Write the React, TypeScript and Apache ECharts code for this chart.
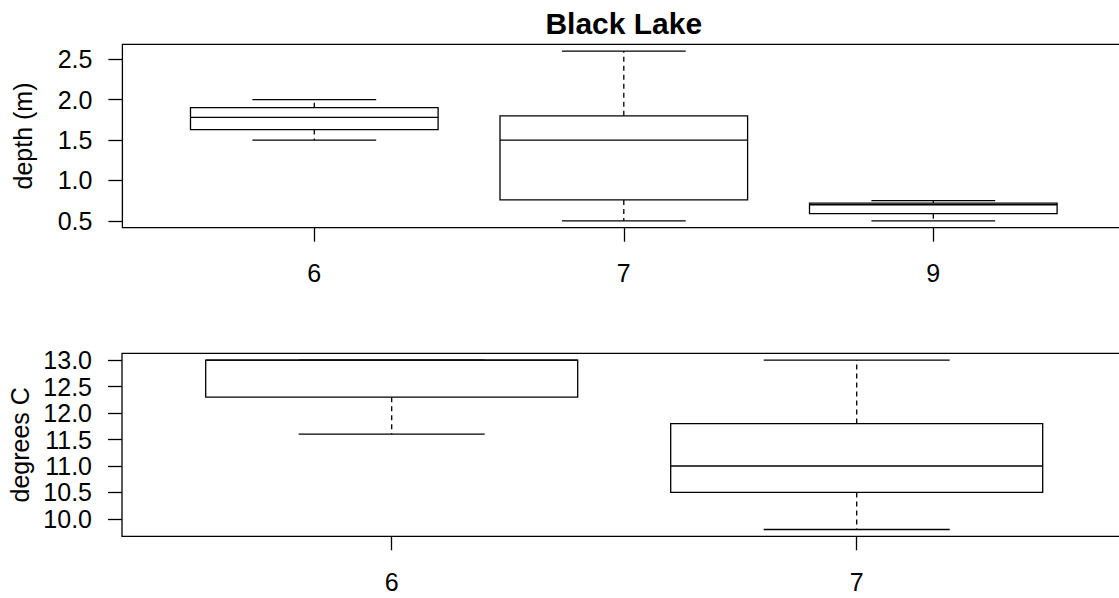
import React, { useEffect, useRef } from "react";
import * as echarts from "echarts";

// Depth of Black Lake by month (five-number summaries, metres)
const depthMonths = ["6", "7", "9"];
const depthLow = [1.5, 0.5, 0.5];
const depthQ1 = [1.63, 0.76, 0.59];
const depthMedian = [1.78, 1.5, 0.7];
const depthQ3 = [1.9, 1.8, 0.72];
const depthHigh = [2.0, 2.6, 0.75];
const depthTicks = [0.5, 1.0, 1.5, 2.0, 2.5];

// Water temperature by month (degrees C)
const tempMonths = ["6", "7"];
const tempLow = [11.6, 9.8];
const tempQ1 = [12.3, 10.5];
const tempMedian = [13.0, 11.0];
const tempQ3 = [13.0, 11.8];
const tempHigh = [13.0, 13.0];
const tempTicks = [10.0, 10.5, 11.0, 11.5, 12.0, 12.5, 13.0];

const FONT = '"Liberation Sans", Arial, Helvetica, sans-serif';
const LW = 1.3;
const INK = "#000";

// 4% padding on each side of a data range, as base R plots do
const padRange = (lo: number, hi: number) => {
  const d = (hi - lo) * 0.04;
  return [lo - d, hi + d];
};

const renderBox = (params: any, api: any) => {
  const x = api.value(0);
  const lo = api.value(1);
  const q1 = api.value(2);
  const med = api.value(3);
  const q3 = api.value(4);
  const hi = api.value(5);
  const cx = api.coord([x, lo])[0];
  const yLo = api.coord([x, lo])[1];
  const yQ1 = api.coord([x, q1])[1];
  const yMed = api.coord([x, med])[1];
  const yQ3 = api.coord([x, q3])[1];
  const yHi = api.coord([x, hi])[1];
  const bl = api.coord([x - 0.4, q1])[0];
  const br = api.coord([x + 0.4, q1])[0];
  const sl = api.coord([x - 0.2, lo])[0];
  const sr = api.coord([x + 0.2, lo])[0];
  const solid = { stroke: INK, lineWidth: LW, fill: null };
  const dashed = { stroke: INK, lineWidth: LW, fill: null, lineDash: [5, 4] };
  return {
    type: "group",
    children: [
      { type: "line", shape: { x1: cx, y1: yQ3, x2: cx, y2: yHi }, style: dashed },
      { type: "line", shape: { x1: cx, y1: yQ1, x2: cx, y2: yLo }, style: dashed },
      { type: "line", shape: { x1: sl, y1: yHi, x2: sr, y2: yHi }, style: solid },
      { type: "line", shape: { x1: sl, y1: yLo, x2: sr, y2: yLo }, style: solid },
      {
        type: "rect",
        shape: { x: bl, y: yQ3, width: br - bl, height: yQ1 - yQ3 },
        style: { stroke: INK, lineWidth: LW, fill: "#fff" },
      },
      { type: "line", shape: { x1: bl, y1: yMed, x2: br, y2: yMed }, style: solid },
    ],
  };
};

const boxData = (
  n: number,
  lo: number[],
  q1: number[],
  med: number[],
  q3: number[],
  hi: number[]
) => Array.from({ length: n }, (_, i) => [i + 1, lo[i], q1[i], med[i], q3[i], hi[i]]);

export default function App() {
  const ref = useRef<HTMLDivElement>(null);

  useEffect(() => {
    if (!ref.current) return;
    const chart = echarts.init(ref.current, undefined, { renderer: "svg" });

    const depthY = padRange(Math.min(...depthLow), Math.max(...depthHigh));
    const tempY = padRange(Math.min(...tempLow), Math.max(...tempHigh));
    const depthX = padRange(0.5, depthMonths.length + 0.5);
    const tempX = padRange(0.5, tempMonths.length + 0.5);
    const depthPos = depthMonths.map((_, i) => i + 1);
    const tempPos = tempMonths.map((_, i) => i + 1);

    const tick = { show: true, length: 14, inside: false, lineStyle: { color: INK, width: LW } };
    const label = { color: INK, fontSize: 25, fontFamily: FONT };

    chart.setOption({
      animation: false,
      backgroundColor: "#fff",
      textStyle: { fontFamily: FONT },
      graphic: [
        {
          type: "text",
          x: 623.8,
          y: 8,
          style: {
            text: "Black Lake",
            font: `bold 30px ${FONT}`,
            fill: INK,
            textAlign: "center",
            textVerticalAlign: "top",
          },
        },
      ],
      grid: [
        {
          left: 122.4,
          right: -6.2,
          top: 44.3,
          height: 183.4,
          show: true,
          borderColor: INK,
          borderWidth: LW,
          backgroundColor: "transparent",
          containLabel: false,
          outerBoundsMode: "none",
        },
        {
          left: 122,
          right: -7.4,
          top: 353.3,
          height: 183,
          show: true,
          borderColor: INK,
          borderWidth: LW,
          backgroundColor: "transparent",
          containLabel: false,
          outerBoundsMode: "none",
        },
      ],
      xAxis: [
        {
          gridIndex: 0,
          type: "value",
          min: depthX[0],
          max: depthX[1],
          axisLine: { show: false },
          splitLine: { show: false },
          axisTick: { ...tick, customValues: depthPos },
          axisLabel: {
            ...label,
            margin: 33,
            customValues: depthPos,
            formatter: (v: number) => depthMonths[Math.round(v) - 1] ?? "",
          },
        },
        {
          gridIndex: 1,
          type: "value",
          min: tempX[0],
          max: tempX[1],
          axisLine: { show: false },
          splitLine: { show: false },
          axisTick: { ...tick, customValues: tempPos },
          axisLabel: {
            ...label,
            margin: 33,
            customValues: tempPos,
            formatter: (v: number) => tempMonths[Math.round(v) - 1] ?? "",
          },
        },
      ],
      yAxis: [
        {
          gridIndex: 0,
          type: "value",
          min: depthY[0],
          max: depthY[1],
          name: "depth (m)",
          nameLocation: "middle",
          nameGap: 87,
          nameTextStyle: { ...label },
          axisLine: { show: false },
          splitLine: { show: false },
          axisTick: { ...tick, customValues: depthTicks },
          axisLabel: {
            ...label,
            margin: 30,
            customValues: depthTicks,
            formatter: (v: number) => v.toFixed(1),
          },
        },
        {
          gridIndex: 1,
          type: "value",
          min: tempY[0],
          max: tempY[1],
          name: "degrees C",
          nameLocation: "middle",
          nameGap: 87,
          nameTextStyle: { ...label },
          axisLine: { show: false },
          splitLine: { show: false },
          axisTick: { ...tick, customValues: tempTicks },
          axisLabel: {
            ...label,
            margin: 30,
            customValues: tempTicks,
            formatter: (v: number) => v.toFixed(1),
          },
        },
      ],
      series: [
        {
          name: "depth",
          type: "custom",
          xAxisIndex: 0,
          yAxisIndex: 0,
          renderItem: renderBox,
          encode: { x: 0, y: [1, 2, 3, 4, 5] },
          clip: false,
          data: boxData(depthMonths.length, depthLow, depthQ1, depthMedian, depthQ3, depthHigh),
        },
        {
          name: "temperature",
          type: "custom",
          xAxisIndex: 1,
          yAxisIndex: 1,
          renderItem: renderBox,
          encode: { x: 0, y: [1, 2, 3, 4, 5] },
          clip: false,
          data: boxData(tempMonths.length, tempLow, tempQ1, tempMedian, tempQ3, tempHigh),
        },
      ],
    });

    return () => chart.dispose();
  }, []);

  return (
    <div
      ref={ref}
      style={{ position: "absolute", left: 0, top: 0, width: 1119, height: 598 }}
    />
  );
}
